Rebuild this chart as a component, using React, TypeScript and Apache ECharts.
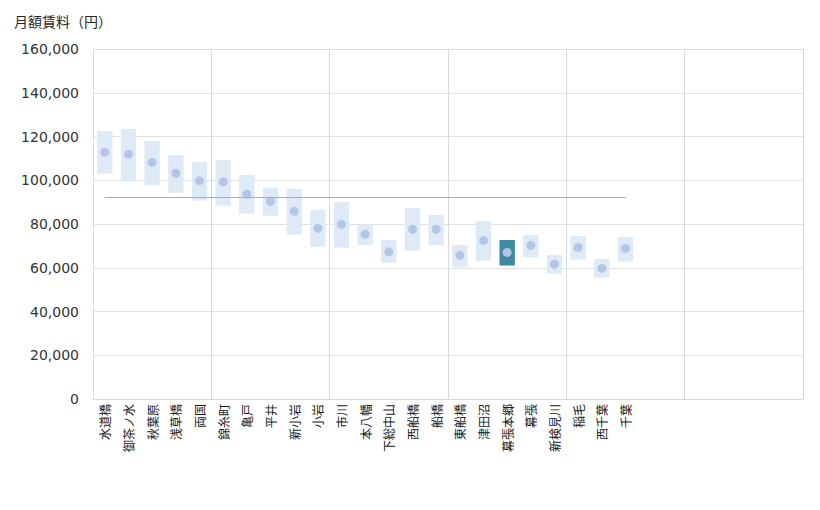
import React, { useEffect, useRef } from "react";
import * as echarts from "echarts";

const stations = [
  "水道橋", "御茶ノ水", "秋葉原", "浅草橋", "両国", "錦糸町", "亀戸", "平井", "新小岩", "小岩",
  "市川", "本八幡", "下総中山", "西船橋", "船橋", "東船橋", "津田沼", "幕張本郷", "幕張", "新検見川",
  "稲毛", "西千葉", "千葉",
];
const emptySlots = ["", "", "", "", "", "", ""];
const categories = [...stations, ...emptySlots];

const lows = [
  103000, 99800, 97800, 94300, 90700, 88400, 84700, 83800, 75100, 69600,
  69200, 70500, 62300, 67800, 70500, 60200, 63200, 61000, 64600, 57300,
  63700, 55500, 62800,
];
const highs = [
  122500, 123400, 117900, 111500, 108300, 109300, 102400, 96500, 96000, 86400,
  90100, 79700, 72700, 87300, 84100, 70400, 81400, 72700, 75000, 65800,
  74500, 64000, 74100,
];
const mids = [
  112800, 111900, 108200, 103200, 99800, 99300, 93600, 90300, 85800, 78000,
  79800, 75300, 67300, 77600, 77600, 65700, 72500, 67000, 70200, 61600,
  69300, 59700, 68900,
];
const averageRent = 92300;
const highlightStation = "幕張本郷";
const yTicks = { min: 0, max: 160000, interval: 20000 };

export default function App() {
  const ref = useRef<HTMLDivElement>(null);
  useEffect(() => {
    if (!ref.current) return;
    const chart = echarts.init(ref.current, undefined, { renderer: "svg" });
    const hiIdx = stations.indexOf(highlightStation);
    const rangeData = stations.map((_, i) => [i, lows[i], highs[i]]);
    const grid = "#d9d9d9";
    chart.setOption({
      animation: false,
      title: {
        text: "月額賃料（円）",
        left: 9,
        top: 9,
        textStyle: {
          fontSize: 14,
          fontWeight: "normal",
          color: "#262626",
          fontFamily: "Noto Sans CJK JP",
        },
      },
      grid: { left: 93, right: 17, top: 49, bottom: 111 },
      xAxis: [
        {
          type: "category",
          data: categories,
          axisLine: { show: true, lineStyle: { color: grid } },
          axisTick: { show: false },
          splitLine: { show: false },
          axisLabel: {
            interval: 0,
            rotate: 90,
            margin: 5,
            fontSize: 12,
            color: "#1a1a1a",
            fontFamily: "Noto Sans CJK JP",
          },
        },
        {
          type: "value",
          min: 0,
          max: 30,
          interval: 5,
          position: "bottom",
          axisLine: { show: false },
          axisTick: { show: false },
          axisLabel: { show: false },
          splitLine: { show: true, lineStyle: { color: grid } },
        },
      ],
      yAxis: {
        type: "value",
        min: yTicks.min,
        max: yTicks.max,
        interval: yTicks.interval,
        axisLine: { show: true, lineStyle: { color: grid } },
        axisTick: { show: false },
        splitLine: { show: true, lineStyle: { color: "#e0e0e0" } },
        axisLabel: {
          margin: 14,
          fontSize: 14,
          color: "#333",
          fontFamily: "DejaVu Sans",
          formatter: (v: number) => v.toLocaleString("en-US"),
        },
      },
      series: [
        {
          type: "custom",
          xAxisIndex: 0,
          data: rangeData,
          encode: { x: 0, y: [1, 2] },
          renderItem: (params: any, api: any) => {
            const i = api.value(0);
            const lo = api.coord([i, api.value(1)]);
            const hi = api.coord([i, api.value(2)]);
            const w = api.size([1, 0])[0] * 0.65;
            return {
              type: "rect",
              shape: { x: lo[0] - w / 2, y: hi[1], width: w, height: lo[1] - hi[1] },
              style: { fill: i === hiIdx ? "#3f8aa3" : "#deeaf6" },
            };
          },
        },
        {
          type: "scatter",
          xAxisIndex: 0,
          data: mids,
          symbol: "circle",
          symbolSize: 9,
          itemStyle: { color: "#b4c6e7", opacity: 1 },
          markLine: {
            silent: true,
            symbol: "none",
            label: { show: false },
            lineStyle: { color: "#93c36a", width: 1, type: "solid" },
            data: [
              [
                { coord: [stations[0], averageRent] },
                { coord: [stations[stations.length - 1], averageRent] },
              ],
            ],
          },
        },
      ],
    });
    return () => chart.dispose();
  }, []);
  return (
    <div
      ref={ref}
      style={{ position: "fixed", left: 0, top: 0, width: 820, height: 510, background: "#fff" }}
    />
  );
}
